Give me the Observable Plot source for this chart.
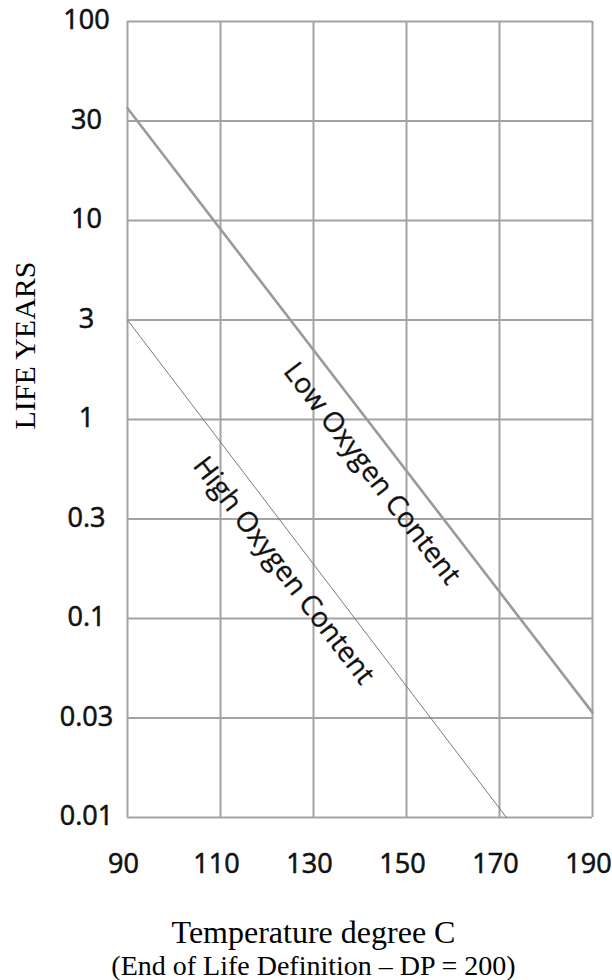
<!DOCTYPE html>
<html><head><meta charset="utf-8">
<script src="https://cdn.jsdelivr.net/npm/d3@7"></script>
<script src="https://cdn.jsdelivr.net/npm/@observablehq/plot@0.6"></script>
<style>html,body{margin:0;padding:0;background:#fff;}</style>
</head><body><div id="chart"></div>
<script>
// Y axis: life in years (grid values, evenly spaced in the original)
const yTicks = [0.01, 0.03, 0.1, 0.3, 1, 3, 10, 30, 100];
const yLabels = ["0.01", "0.03", "0.1", "0.3", "1", "3", "10", "30", "100"];
// X axis: temperature °C
const xTicks = [90, 110, 130, 150, 170, 190];
// Low oxygen content line
const lowTemp = [90, 190];
const lowLife = [35, 0.032];
// High oxygen content line
const highTemp = [90, 171.5];
const highLife = [3, 0.01];
// In-chart labels
const labelText = ["Low Oxygen Content", "High Oxygen Content"];
const labelTemp = [142.6, 123.6];
const labelLife = [0.52, 0.17];

// Evenly spaced grid: each grid step is one unit, log-interpolated between
function idx(v) {
  const G = yTicks;
  if (v <= G[0]) return 0;
  for (let i = 0; i < G.length - 1; i++) {
    if (v <= G[i + 1]) return i + Math.log(v / G[i]) / Math.log(G[i + 1] / G[i]);
  }
  return G.length - 1;
}

const low = lowTemp.map((t, i) => ({temp: t, life: lowLife[i]}));
const high = highTemp.map((t, i) => ({temp: t, life: highLife[i]}));
const labels = labelText.map((s, i) => ({text: s, temp: labelTemp[i], life: labelLife[i]}));

const sans = "'Open Sans', sans-serif";
const serif = "'Liberation Serif', 'Times New Roman', serif";
const gridColor = "#a3a3a3";

const chart = Plot.plot({
  width: 612,
  height: 980,
  marginLeft: 127,
  marginRight: 20,
  marginTop: 21,
  marginBottom: 163,
  style: {fontFamily: sans, color: "#1a1a1a", background: "#fff"},
  x: {domain: [90, 190], label: null},
  y: {transform: idx, label: null, nice: false},
  marks: [
    Plot.ruleY(yTicks, {stroke: gridColor, strokeWidth: 2}),
    Plot.ruleX(xTicks, {stroke: gridColor, strokeWidth: 2}),
    Plot.line(low, {x: "temp", y: "life", stroke: "#9a9a9a", strokeWidth: 2.6}),
    Plot.line(high, {x: "temp", y: "life", stroke: "#7a7a7a", strokeWidth: 1}),
    Plot.text(labels, {x: "temp", y: "life", text: "text", rotate: 52.5, fontSize: 28,
      fontFamily: sans, textAnchor: "middle", lineAnchor: "middle", fill: "#111",
      stroke: "#111", strokeWidth: 0.3}),
    Plot.axisY(yTicks, {tickSize: 0, tickPadding: 41, textAnchor: "middle", dy: -1,
      tickFormat: d => yLabels[yTicks.indexOf(d)], fontSize: 27, fill: "#111",
      textStroke: "#111", textStrokeWidth: 0.6, label: null}),
    Plot.axisX(xTicks, {tickSize: 0, tickPadding: 36, dx: -4,
      tickFormat: d => String(d), fontSize: 27, fill: "#111",
      textStroke: "#111", textStrokeWidth: 0.6, label: null}),
    Plot.text(["LIFE YEARS"], {frameAnchor: "left", dx: -102, dy: -74, rotate: -90,
      textAnchor: "middle", lineAnchor: "middle", fontFamily: serif, fontSize: 30, fill: "#000"}),
    Plot.text(["Temperature degree C"], {frameAnchor: "bottom", dx: -46.5, dy: 115,
      textAnchor: "middle", lineAnchor: "middle", fontFamily: serif, fontSize: 32, fill: "#000"}),
    Plot.text(["(End of Life Definition \u2013 DP = 200)"], {frameAnchor: "bottom", dx: -46.5, dy: 149,
      textAnchor: "middle", lineAnchor: "middle", fontFamily: serif, fontSize: 28, fill: "#000"})
  ]
});
document.getElementById("chart").appendChild(chart);
</script>
</body></html>
